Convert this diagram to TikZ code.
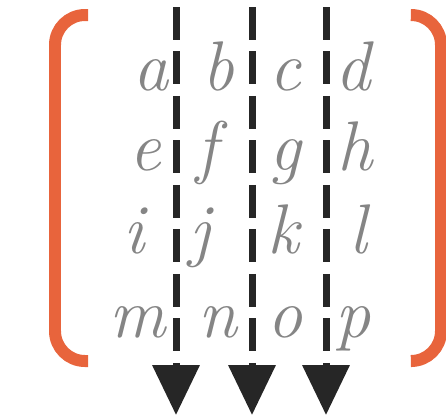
\documentclass[tikz,border=0pt]{standalone}
\usepackage{fontspec}
\usepackage{xcolor}
\usepackage{tikz}
\usetikzlibrary{arrows.meta, positioning}

\definecolor{bracketorange}{RGB}{232,100,60}

\begin{document}
\begin{tikzpicture}[x=0.02cm, y=-0.02cm,
  entry/.style = {text=black!48, font=\fontsize{40}{40}\selectfont\itshape,
                  anchor=base, inner sep=0pt},
  brk/.style   = {draw=bracketorange, line width=0.24cm, rounded corners=0.6cm},
  cut/.style   = {draw=black!85, line width=0.14cm,
                  dash pattern=on 0.66cm off 0.23cm,
                  -{Triangle[width=0.92cm, length=1cm]}},
]
  \useasboundingbox (0,0) rectangle (446,417);

  % brackets of the matrix
  \draw[brk] (88,15) -- (55,15) -- (55,361) -- (88,361);
  \draw[brk] (412,15) -- (441,15) -- (441,361) -- (412,361);

  % entries
  \node[entry] (a) at (151,90)  {a};
  \node[entry] (b) at (218,90)  {b};
  \node[entry] (c) at (285,90)  {c};
  \node[entry] (d) at (353,90)  {d};
  \node[entry] (e) at (145,170) {e};
  \node[entry] (f) at (207,170) {f};
  \node[entry] (g) at (285,170) {g};
  \node[entry] (h) at (355,170) {h};
  \node[entry] (i) at (134,253) {i};
  \node[entry] (j) at (200,253) {j};
  \node[entry] (k) at (283,253) {k};
  \node[entry] (l) at (358,253) {l};
  \node[entry] (m) at (138,337) {m};
  \node[entry] (n) at (218,337) {n};
  \node[entry] (o) at (285,337) {o};
  \node[entry] (p) at (353,337) {p};

  % cuts between the columns
  \coordinate (cut1top) at (176,7);  \coordinate (cut1bot) at (176,415);
  \coordinate (cut2top) at (252,7);  \coordinate (cut2bot) at (252,415);
  \coordinate (cut3top) at (326,7);  \coordinate (cut3bot) at (326,415);
  \draw[cut] (cut1top) -- (cut1bot);
  \draw[cut] (cut2top) -- (cut2bot);
  \draw[cut] (cut3top) -- (cut3bot);
\end{tikzpicture}
\end{document}
